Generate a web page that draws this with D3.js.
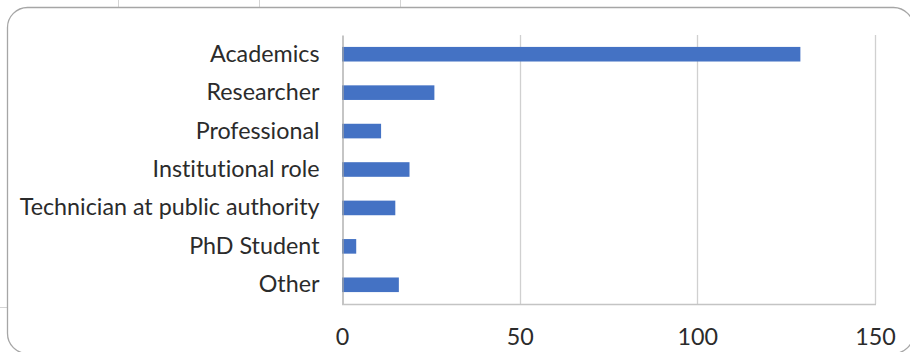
<!DOCTYPE html>
<html>
<head>
<meta charset="utf-8">
<script src="https://cdn.jsdelivr.net/npm/d3@7"></script>
<style>
  html, body { margin: 0; padding: 0; background: #fff; }
  svg { display: block; }
  .lbl { font-family: Lato, "Open Sans", sans-serif; fill: #2b2b2b; font-variant-ligatures: none; }
</style>
</head>
<body>
<svg id="chart" width="910" height="352"></svg>
<script>
// Respondent roles and counts
const categories = ["Academics", "Researcher", "Professional", "Institutional role",
  "Technician at public authority", "PhD Student", "Other"];
const counts = [129, 26, 11, 19, 15, 4, 16];
const tickValues = [0, 50, 100, 150];

const W = 910, H = 352;
const plot = { left: 342, right: 875, top: 35, bottom: 304 };
const svg = d3.select("#chart");

// Spreadsheet cell lines peeking out around the chart frame
const cellLines = svg.append("g").attr("stroke", "#d4d4d4").attr("stroke-width", 1);
[118.5, 259.5, 400.5].forEach(x =>
  cellLines.append("line").attr("x1", x).attr("x2", x).attr("y1", 0).attr("y2", 7));
cellLines.append("line").attr("x1", 0).attr("x2", 7).attr("y1", 307.5).attr("y2", 307.5);

// Chart frame
svg.append("rect")
  .attr("x", 7.5).attr("y", 7.5).attr("width", 906).attr("height", 346)
  .attr("rx", 20).attr("ry", 20)
  .attr("fill", "#fff").attr("stroke", "#a6a6a6").attr("stroke-width", 1.3);

const x = d3.scaleLinear().domain([0, 150]).range([plot.left, plot.right]);
const y = d3.scaleBand().domain(categories).range([plot.top, plot.bottom])
  .paddingInner(0.62).paddingOuter(0.31);

// Vertical gridlines
svg.append("g").selectAll("line").data(tickValues.filter(d => d > 0)).join("line")
  .attr("x1", d => Math.round(x(d)) + 0.5).attr("x2", d => Math.round(x(d)) + 0.5)
  .attr("y1", plot.top).attr("y2", plot.bottom)
  .attr("stroke", "#d0d0d0").attr("stroke-width", 1.3);

// Bars
svg.append("g").selectAll("rect").data(categories).join("rect")
  .attr("x", x(0))
  .attr("y", d => y(d))
  .attr("width", (d, i) => x(counts[i]) - x(0))
  .attr("height", y.bandwidth())
  .attr("fill", "#4472c4");

// Category axis
const yAxis = svg.append("g").attr("transform", `translate(${plot.left + 0.5},0)`)
  .call(d3.axisLeft(y).tickSize(0).tickPadding(23));
yAxis.select(".domain").attr("stroke", "#a6a6a6").attr("stroke-width", 1.3);
yAxis.selectAll("text").attr("class", "lbl").attr("font-size", 23.3).attr("fill", "#2b2b2b");

// Bottom axis line
svg.append("line")
  .attr("x1", plot.left).attr("x2", plot.right + 1)
  .attr("y1", plot.bottom + 0.5).attr("y2", plot.bottom + 0.5)
  .attr("stroke", "#c4c4c4").attr("stroke-width", 1.3);

// Value axis labels
const xAxis = svg.append("g").attr("transform", `translate(0,${plot.bottom})`)
  .call(d3.axisBottom(x).tickValues(tickValues).tickSize(0).tickPadding(24));
xAxis.select(".domain").remove();
xAxis.selectAll("text").attr("class", "lbl").attr("font-size", 23.3).attr("fill", "#2b2b2b");
</script>
</body>
</html>
